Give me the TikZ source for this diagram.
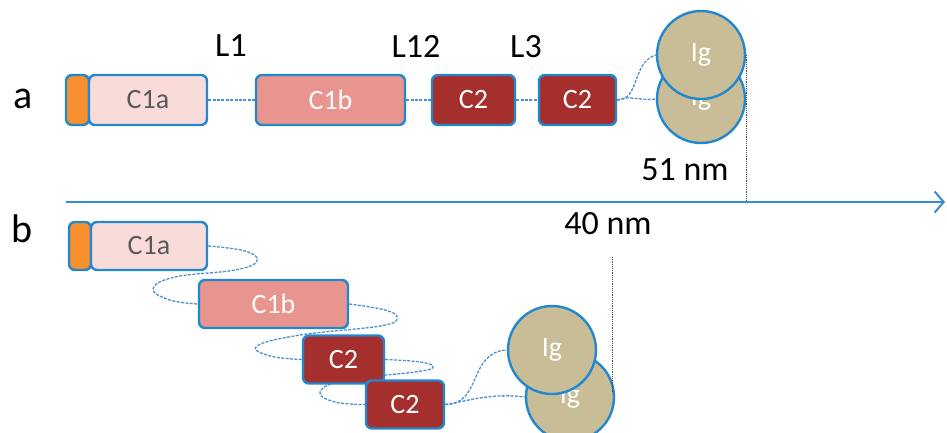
\documentclass[tikz,border=0pt]{standalone}
\usepackage{fontspec}
\setmainfont{Carlito}
\usetikzlibrary{arrows.meta}
\definecolor{bordblue}{HTML}{2387D0}
\definecolor{linkblue}{HTML}{4A90D2}
\definecolor{axisblue}{HTML}{3A8AD0}
\definecolor{orangefill}{HTML}{F8902F}
\definecolor{cone}{HTML}{F9DBD9}
\definecolor{ctwo}{HTML}{E8948F}
\definecolor{cthree}{HTML}{A52F2D}
\definecolor{igfill}{HTML}{C8BD96}
\definecolor{txtgray}{HTML}{595959}
\pgfdeclarelayer{bg}
\pgfsetlayers{bg,main}
\begin{document}
\begin{tikzpicture}[x=1pt,y=-1pt,
  dom/.style={draw=bordblue, line width=2.4pt, rounded corners=6pt, minimum height=50pt, inner sep=0pt, font=\fontsize{28}{30}\selectfont},
  domb/.style={dom, minimum height=48pt},
  tag/.style={fill=orangefill},
  pale/.style={fill=cone, text=txtgray},
  mid/.style={fill=ctwo, text=white},
  dark/.style={fill=cthree, text=white},
  ig/.style={circle, draw=bordblue, line width=2.4pt, fill=igfill, text=white, minimum size=88pt, inner sep=0pt, font=\fontsize{28}{30}\selectfont},
  link/.style={draw=linkblue, line width=1.3pt, dash pattern=on 3pt off 1.4pt},
  dotline/.style={draw=black!70, line width=0.8pt, dash pattern=on 1.2pt off 1pt},
  axisline/.style={draw=axisblue, line width=2pt, -{Straight Barb[length=9pt,width=21pt,line width=2pt]}},
  lab/.style={inner sep=0pt, font=\fontsize{34}{36}\selectfont},
  panel/.style={inner sep=0pt, font=\fontsize{40}{44}\selectfont}
]
\useasboundingbox (0,0) rectangle (947,432);

% panel labels
\node[panel] (pa) at (23,99) {a};
\node[panel] (pb) at (22,229) {b};

% ---- panel a ----
\node[dom, tag, minimum width=23pt] (na0) at (77.5,100) {};
\node[dom, pale, minimum width=118pt] (na1) at (148,100) {C1a};
\node[dom, mid, minimum width=149pt] (na2) at (330.5,100) {C1b};
\node[dom, dark, minimum width=83pt] (na3) at (473.5,100) {C2};
\node[dom, dark, minimum width=77pt] (na4) at (577.5,100) {C2};
\node[ig] (na6) at (701,99) {Ig};
\node[ig] (na5) at (701,55) {Ig};

\node[lab] (l1) at (231,46) {L1};
\node[lab] (l12) at (416,46) {L12};
\node[lab] (l3) at (526,47) {L3};
\node[lab] (d51) at (685,170) {51 nm};

\begin{pgfonlayer}{bg}
\draw[link] (na1.east) -- (na2.west);
\draw[link] (na2.east) -- (na3.west);
\draw[link] (na3.east) -- (na4.west);
\draw[link] (na4.east) .. controls (640,100) and (632,62) .. (na5.west);
\draw[link] (na4.east) .. controls (630,95) and (640,101) .. (na6.west);
\end{pgfonlayer}

% axis
\coordinate (ax0) at (66,202);
\coordinate (ax1) at (945,202);
\draw[axisline] (ax0) -- (ax1);
\draw[dotline] (na5.east) -- (na5.east |- ax0);

% ---- panel b ----
\node[domb, tag, minimum width=22pt] (nb0) at (80,246) {};
\node[domb, pale, minimum width=116pt] (nb1) at (149,246) {C1a};
\node[domb, mid, minimum width=149pt] (nb2) at (273.5,304) {C1b};
\node[domb, dark, minimum width=81pt] (nb3) at (343.5,359.5) {C2};
\node[domb, dark, minimum width=78pt] (nb4) at (405,404.5) {C2};
\node[ig] (nb5) at (570,397) {Ig};
\node[ig] (nb6) at (552,350) {Ig};

\node[lab] (d40) at (608,224) {40 nm};
\coordinate (vt) at (612,257);
\coordinate (vb) at (612,392);
\draw[dotline] (vt) -- (vb);

\begin{pgfonlayer}{bg}
\draw[link] plot[smooth, tension=0.7] coordinates {(nb1.east) (245,251) (257,261) (235,270) (175,277) (153,289) (170,300) (nb2.west)};
\draw[link] plot[smooth, tension=0.7] coordinates {(nb2.east) (385,310) (397,318) (380,326) (300,335) (257,346) (270,356) (nb3.west)};
\draw[link] plot[smooth, tension=0.7] coordinates {(nb3.east) (420,362) (433,367) (415,372) (345,380) (320,392) (335,402) (nb4.west)};
\draw[link] (nb4.east) .. controls (482,405) and (468,352) .. (nb6.west);
\draw[link] (nb4.east) .. controls (472,400) and (492,393) .. (nb5.west);
\end{pgfonlayer}
\end{tikzpicture}
\end{document}
